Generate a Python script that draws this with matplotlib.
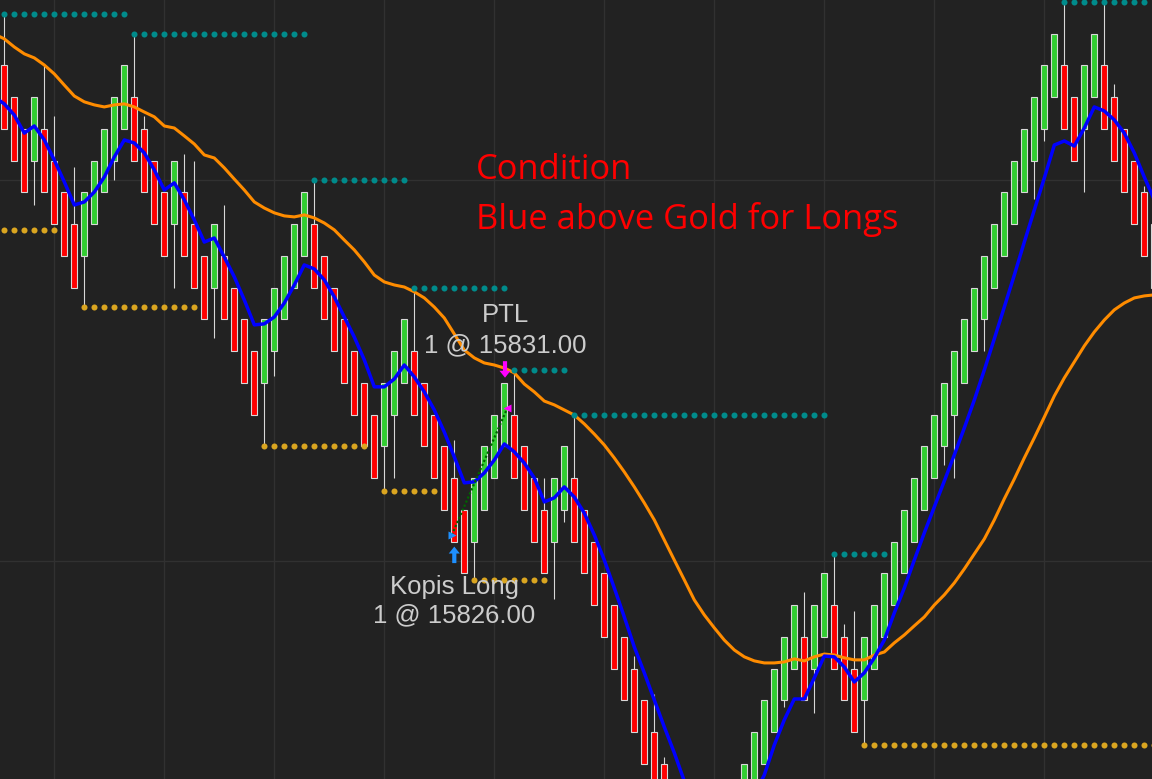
import matplotlib
matplotlib.use("Agg")
import matplotlib.pyplot as plt
import numpy as np

# renko-style bars, left to right (bar 0 sits at the left edge)
opens = [15844.5, 15843.25, 15842.0, 15840.75, 15842.0, 15840.75, 15839.5, 15838.25, 15837.0, 15838.25,
         15839.5, 15840.75, 15842.0, 15843.25, 15842.0, 15840.75, 15839.5, 15838.25, 15839.5, 15838.25,
         15837.0, 15835.75, 15837.0, 15835.75, 15834.5, 15833.25, 15832.0, 15833.25, 15834.5, 15835.75,
         15837.0, 15838.25, 15837.0, 15835.75, 15834.5, 15833.25, 15832.0, 15830.75, 15829.5, 15830.75,
         15832.0, 15833.25, 15832.0, 15830.75, 15829.5, 15828.25, 15827.0, 15825.75, 15827.0, 15828.25,
         15829.5, 15830.75, 15829.5, 15828.25, 15827.0, 15825.75, 15827.0, 15828.25, 15827.0, 15825.75,
         15824.5, 15823.25, 15822.0, 15820.75, 15819.5, 15818.25, 15817.0, 15815.75, 15814.5, 15813.25,
         15812.0, 15810.75, 15812.0, 15813.25, 15814.5, 15815.75, 15817.0, 15818.25, 15819.5, 15820.75,
         15822.0, 15820.75, 15822.0, 15823.25, 15822.0, 15820.75, 15819.5, 15820.75, 15822.0, 15823.25,
         15824.5, 15825.75, 15827.0, 15828.25, 15829.5, 15830.75, 15832.0, 15833.25, 15834.5, 15835.75,
         15837.0, 15838.25, 15839.5, 15840.75, 15842.0, 15843.25, 15844.5, 15843.25, 15842.0, 15843.25,
         15844.5, 15843.25, 15842.0, 15840.75, 15839.5, 15838.25]
closes = [15842.0, 15840.75, 15839.5, 15843.25, 15839.5, 15838.25, 15837.0, 15835.75, 15839.5, 15840.75,
          15842.0, 15843.25, 15844.5, 15840.75, 15839.5, 15838.25, 15837.0, 15840.75, 15837.0, 15835.75,
          15834.5, 15838.25, 15834.5, 15833.25, 15832.0, 15830.75, 15834.5, 15835.75, 15837.0, 15838.25,
          15839.5, 15835.75, 15834.5, 15833.25, 15832.0, 15830.75, 15829.5, 15828.25, 15832.0, 15833.25,
          15834.5, 15830.75, 15829.5, 15828.25, 15827.0, 15825.75, 15824.5, 15828.25, 15829.5, 15830.75,
          15832.0, 15828.25, 15827.0, 15825.75, 15824.5, 15828.25, 15829.5, 15825.75, 15824.5, 15823.25,
          15822.0, 15820.75, 15819.5, 15818.25, 15817.0, 15815.75, 15814.5, 15813.25, 15812.0, 15810.75,
          15809.5, 15813.25, 15814.5, 15815.75, 15817.0, 15818.25, 15819.5, 15820.75, 15822.0, 15823.25,
          15819.5, 15823.25, 15824.5, 15820.75, 15819.5, 15818.25, 15822.0, 15823.25, 15824.5, 15825.75,
          15827.0, 15828.25, 15829.5, 15830.75, 15832.0, 15833.25, 15834.5, 15835.75, 15837.0, 15838.25,
          15839.5, 15840.75, 15842.0, 15843.25, 15844.5, 15845.75, 15842.0, 15840.75, 15844.5, 15845.75,
          15842.0, 15840.75, 15839.5, 15838.25, 15837.0, 15835.75]
highs = [15846.5, 15843.25, 15842.0, 15843.25, 15844.5, 15842.5, 15839.5, 15840.5, 15839.5, 15840.75,
         15842.0, 15843.25, 15844.5, 15845.75, 15842.5, 15840.75, 15839.5, 15840.75, 15841.0, 15840.75,
         15837.0, 15838.25, 15839.0, 15835.75, 15834.5, 15833.25, 15834.5, 15835.75, 15837.0, 15838.25,
         15839.5, 15840.0, 15837.0, 15835.75, 15834.5, 15833.25, 15832.0, 15830.75, 15832.0, 15833.25,
         15834.5, 15835.75, 15832.0, 15830.75, 15829.5, 15829.75, 15827.0, 15828.25, 15829.5, 15830.75,
         15832.0, 15832.5, 15829.5, 15828.25, 15828.25, 15828.25, 15829.5, 15830.75, 15827.0, 15825.75,
         15824.5, 15823.25, 15822.0, 15821.25, 15819.5, 15819.75, 15817.25, 15815.75, 15814.5, 15813.25,
         15812.0, 15813.25, 15814.5, 15815.75, 15817.0, 15818.25, 15819.5, 15820.75, 15822.0, 15823.25,
         15823.75, 15823.25, 15824.5, 15825.25, 15822.5, 15823.0, 15822.0, 15823.25, 15824.5, 15825.75,
         15827.0, 15828.25, 15829.5, 15830.75, 15832.0, 15833.25, 15834.5, 15835.75, 15837.0, 15838.25,
         15839.5, 15840.75, 15842.0, 15843.25, 15844.5, 15845.75, 15847.0, 15843.25, 15844.5, 15845.75,
         15847.0, 15843.75, 15842.0, 15840.75, 15839.75, 15838.25]
lows = [15842.0, 15840.75, 15839.5, 15839.0, 15839.5, 15838.25, 15837.0, 15835.75, 15835.0, 15838.25,
        15839.5, 15840.0, 15842.0, 15840.75, 15839.5, 15838.25, 15837.0, 15835.75, 15837.0, 15835.75,
        15834.5, 15833.75, 15834.5, 15833.25, 15832.0, 15830.75, 15829.5, 15832.25, 15834.5, 15835.75,
        15837.0, 15835.75, 15834.5, 15833.25, 15832.0, 15830.75, 15829.5, 15828.25, 15827.75, 15828.25,
        15832.0, 15830.75, 15829.5, 15828.25, 15827.0, 15825.75, 15824.5, 15824.25, 15827.0, 15828.25,
        15829.5, 15828.25, 15827.0, 15825.75, 15824.5, 15823.5, 15826.5, 15825.75, 15824.5, 15823.25,
        15822.0, 15820.75, 15819.5, 15818.25, 15817.0, 15815.75, 15814.5, 15813.25, 15812.0, 15810.75,
        15809.5, 15810.75, 15812.0, 15813.25, 15814.5, 15815.75, 15817.0, 15818.25, 15819.25, 15820.75,
        15819.5, 15819.0, 15822.0, 15820.75, 15819.5, 15818.25, 15817.75, 15820.75, 15822.0, 15823.25,
        15824.5, 15825.75, 15827.0, 15828.25, 15828.75, 15828.25, 15832.0, 15833.25, 15833.25, 15835.75,
        15837.0, 15838.25, 15839.5, 15839.25, 15841.5, 15843.25, 15842.0, 15840.75, 15839.5, 15843.25,
        15842.0, 15840.75, 15839.5, 15838.25, 15837.0, 15835.75]

# moving averages, starting one bar before bar 0
blue_ma = [15843.25, 15842.98, 15842.54, 15841.83, 15842.11, 15841.56, 15840.77, 15839.91, 15839.00, 15839.12,
           15839.51, 15840.10, 15840.89, 15841.56, 15841.44, 15841.05, 15840.38, 15839.59, 15839.87, 15839.20,
           15838.41, 15837.54, 15837.70, 15836.95, 15836.17, 15835.26, 15834.28, 15834.32, 15834.59, 15835.14,
           15835.85, 15836.64, 15836.48, 15836.05, 15835.38, 15834.59, 15833.80, 15832.90, 15831.84, 15831.84,
           15832.15, 15832.70, 15832.23, 15831.64, 15830.93, 15830.06, 15829.08, 15828.06, 15828.10, 15828.45,
           15828.96, 15829.59, 15829.28, 15828.84, 15828.25, 15827.31, 15827.47, 15827.90, 15827.50, 15826.87,
           15826.01, 15825.02, 15823.92, 15822.78, 15821.60, 15820.58, 15819.51, 15818.45, 15817.43, 15816.32,
           15815.34, 15814.55, 15814.08, 15814.08, 15814.47, 15815.10, 15815.77, 15816.56, 15817.74, 15818.73,
           15819.55, 15819.55, 15820.38, 15821.24, 15821.21, 15820.81, 15820.22, 15820.58, 15821.17, 15821.87,
           15822.94, 15823.92, 15825.02, 15826.09, 15827.11, 15828.13, 15829.16, 15830.22, 15831.32, 15832.50,
           15833.73, 15834.98, 15836.24, 15837.54, 15838.80, 15840.06, 15841.36, 15841.52, 15841.32, 15842.03,
           15842.86, 15842.70, 15842.35, 15841.83, 15841.05, 15840.10, 15839.20]
gold_ma = [15845.73, 15845.54, 15845.22, 15844.95, 15844.79, 15844.51, 15844.16, 15843.72, 15843.29, 15843.06,
           15842.94, 15842.86, 15842.94, 15842.98, 15842.86, 15842.66, 15842.47, 15842.11, 15842.03, 15841.72,
           15841.40, 15840.97, 15840.85, 15840.46, 15840.02, 15839.59, 15839.12, 15838.88, 15838.69, 15838.57,
           15838.53, 15838.61, 15838.49, 15838.29, 15838.02, 15837.62, 15837.23, 15836.76, 15836.24, 15835.97,
           15835.85, 15835.77, 15835.58, 15835.34, 15834.98, 15834.55, 15833.92, 15833.29, 15832.98, 15832.78,
           15832.70, 15832.58, 15832.39, 15831.95, 15831.64, 15831.28, 15831.13, 15830.93, 15830.73, 15830.38,
           15829.98, 15829.55, 15829.04, 15828.49, 15827.90, 15827.27, 15826.60, 15825.81, 15825.02, 15824.24,
           15823.45, 15822.86, 15822.35, 15821.87, 15821.48, 15821.21, 15821.05, 15820.97, 15820.97, 15821.01,
           15821.13, 15821.05, 15821.21, 15821.32, 15821.28, 15821.17, 15821.09, 15821.09, 15821.28, 15821.40,
           15821.76, 15822.07, 15822.43, 15822.78, 15823.25, 15823.65, 15824.12, 15824.67, 15825.26, 15825.85,
           15826.60, 15827.43, 15828.21, 15829.04, 15829.83, 15830.65, 15831.48, 15832.19, 15832.82, 15833.45,
           15834.00, 15834.47, 15834.87, 15835.14, 15835.34, 15835.42, 15835.46]

# swing high / swing low dotted levels: first bar, last bar, price
swing_hi_start = [0, 13, 31, 41, 51, 57, 83, 106]
swing_hi_end = [12, 30, 40, 50, 56, 82, 88, 114]
swing_hi_price = [15846.5, 15845.75, 15840.0, 15835.75, 15832.5, 15830.75, 15825.25, 15847.0]
swing_lo_start = [0, 8, 26, 38, 47, 86]
swing_lo_end = [5, 19, 36, 43, 54, 115]
swing_lo_price = [15838.0, 15835.0, 15829.5, 15827.75, 15824.25, 15817.75]

# trade
entry_bar, entry_price = 45, 15826.00
exit_bar, exit_price = 50, 15831.00

BG = '#222222'
GRID = '#313131'
UP = '#32cd32'
DOWN = '#ff0000'
OUTLINE = '#d8d8d8'

fig = plt.figure(figsize=(11.52, 7.79), dpi=100, facecolor=BG)
ax = fig.add_axes([0, 0, 1, 1])
ax.set_facecolor(BG)
for s in ax.spines.values():
    s.set_visible(False)

o = np.array(opens)
c = np.array(closes)
x = np.arange(len(o))
ax.vlines(x, lows, highs, color=OUTLINE, lw=0.8, zorder=2)
ax.bar(x, c - o, bottom=o, width=0.58, color=np.where(c > o, UP, DOWN),
       edgecolor=OUTLINE, linewidth=0.8, zorder=3)

ax.plot(np.arange(-1, len(gold_ma) - 1), gold_ma, color='#ff8c00', lw=2.2, zorder=5, solid_joinstyle='round')
ax.plot(np.arange(-1, len(blue_ma) - 1), blue_ma, color='#0000ff', lw=2.5, zorder=6, solid_joinstyle='round')

for s, e, p in zip(swing_hi_start, swing_hi_end, swing_hi_price):
    xs = np.arange(s, e + 1)
    ax.scatter(xs, [p] * len(xs), s=19, color='#008b8b', linewidths=0, zorder=7)
for s, e, p in zip(swing_lo_start, swing_lo_end, swing_lo_price):
    xs = np.arange(s, e + 1)
    ax.scatter(xs, [p] * len(xs), s=19, color='#daa520', linewidths=0, zorder=7)

# execution markers
ax.plot([entry_bar - 0.26, exit_bar + 0.3], [entry_price, exit_price], color='#006400', lw=1.6,
        ls=(0, (1, 1)), zorder=7)
ax.plot(entry_bar - 0.26, entry_price, marker='>', ms=6, color='#1e90ff', mec='none', zorder=8)
ax.plot(exit_bar + 0.3, exit_price, marker='<', ms=6, color='#ff00ff', mec='none', zorder=8)
ax.annotate('', xy=(entry_bar, 15825.55), xytext=(entry_bar, 15824.9),
            arrowprops=dict(facecolor='#1e90ff', edgecolor='none', width=3, headwidth=8, headlength=5), zorder=8)
ax.annotate('', xy=(exit_bar + 0.07, 15832.2), xytext=(exit_bar + 0.07, 15832.85),
            arrowprops=dict(facecolor='#ff00ff', edgecolor='none', width=3, headwidth=8, headlength=5), zorder=8)

lab = dict(color='#cccccc', fontsize=18.5, family='Liberation Sans', ha='center', va='baseline', zorder=9)
ax.text(exit_bar + 0.07, 15834.4, 'PTL', **lab)
ax.text(exit_bar + 0.05, 15833.2, '1 @ 15831.00', **lab)
ax.text(entry_bar, 15823.7, 'Kopis Long', **lab)
ax.text(entry_bar, 15822.55, '1 @ 15826.00', **lab)

note = dict(color='#ff0000', fontsize=24.8, family='Open Sans', ha='left', va='baseline',
            transform=ax.transAxes, zorder=9)
ax.text(476 / 1152, 1 - 179 / 779, 'Condition', **note)
ax.text(476 / 1152, 1 - 229 / 779, 'Blue above Gold for Longs', **note)

ax.set_xlim(-0.43, 114.77)
ax.set_ylim(15816.40, 15847.07)
ax.set_xticks([5, 16, 27, 38, 49, 60, 71, 82, 93, 104])
ax.set_yticks([15825, 15840])
ax.tick_params(length=0, labelbottom=False, labelleft=False)
ax.grid(True, color=GRID, lw=1)
ax.set_axisbelow(True)

fig.savefig('out.png', dpi=100, facecolor=BG)
